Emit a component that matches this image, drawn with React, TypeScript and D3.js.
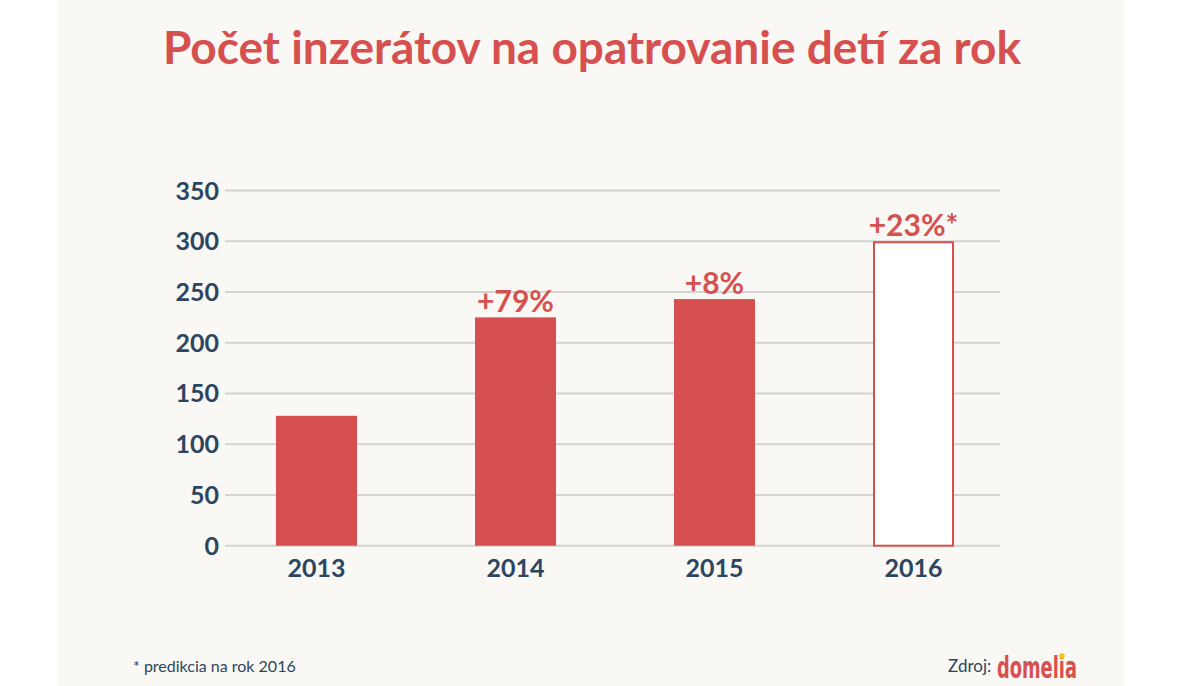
import React from 'react'
import * as d3 from 'd3'

// yearly counts of babysitting ads (2016 is a forecast)
const years = ['2013', '2014', '2015', '2016']
const counts = [128, 225, 243, 300]
const growthLabels = ['', '+79%', '+8%', '+23%*']
const forecast = [false, false, false, true]
const yTicks = [0, 50, 100, 150, 200, 250, 300, 350]

const W = 1200
const H = 686
const RED = '#d75050'
const NAVY = '#2c4560'
const FONT = 'Lato, "Open Sans", sans-serif'

export default function App() {
  const x = d3.scaleBand<string>()
    .domain(years)
    .range([217, 1013])
    .paddingInner(0.593)
    .paddingOuter(0.2965)

  const y = d3.scaleLinear()
    .domain([0, 350])
    .range([545.7, 190.5])

  return (
    <svg width={W} height={H} style={{ position: 'absolute', left: 0, top: 0 }}>
      <rect x={0} y={0} width={W} height={H} fill='#ffffff' />
      <rect x={58} y={0} width={1066} height={H} fill='#f9f8f4' />

      <text x={592} y={64} textAnchor='middle' fill={RED}
        style={{ fontFamily: FONT, fontWeight: 700, fontSize: 46 }}>
        Počet inzerátov na opatrovanie detí za rok
      </text>

      <g>
        {yTicks.map(t => (
          <g key={t}>
            <line x1={225} x2={1000} y1={y(t)} y2={y(t)} stroke='#d4d3d0' strokeWidth={2} />
            <text x={219} y={y(t) + 9} textAnchor='end' fill={NAVY}
              style={{ fontFamily: FONT, fontWeight: 700, fontSize: 25 }}>
              {t}
            </text>
          </g>
        ))}
      </g>

      <g>
        {years.map((yr, i) => {
          const bx = x(yr) as number
          const bw = x.bandwidth()
          const top = y(counts[i])
          return (
            <g key={yr}>
              {forecast[i] ? (
                <rect x={bx + 1} y={top + 1} width={bw - 2} height={y(0) - top - 1}
                  fill='#ffffff' stroke={RED} strokeWidth={2} />
              ) : (
                <rect x={bx} y={top} width={bw} height={y(0) - top} fill={RED} />
              )}
              {growthLabels[i] && (
                <text x={bx + bw / 2} y={top - 5} textAnchor='middle' fill={RED}
                  style={{ fontFamily: FONT, fontWeight: 700, fontSize: 30 }}>
                  {growthLabels[i]}
                </text>
              )}
              <text x={bx + bw / 2} y={577} textAnchor='middle' fill={NAVY}
                style={{ fontFamily: FONT, fontWeight: 700, fontSize: 25 }}>
                {yr}
              </text>
            </g>
          )
        })}
      </g>

      <text x={133} y={672} fill={NAVY}
        style={{ fontFamily: FONT, fontSize: 16 }}>
        * predikcia na rok 2016
      </text>
      <text x={948} y={672} fill={NAVY}
        style={{ fontFamily: FONT, fontSize: 17 }}>
        Zdroj:
      </text>
      <text x={997} y={678} fill={RED} textLength={80} lengthAdjust='spacingAndGlyphs'
        style={{ fontFamily: '"DejaVu Sans", sans-serif', fontWeight: 700, fontSize: 31 }}>
        domelia
      </text>
      <circle cx={1062} cy={656} r={2.8} fill='#f2c81c' />
    </svg>
  )
}
